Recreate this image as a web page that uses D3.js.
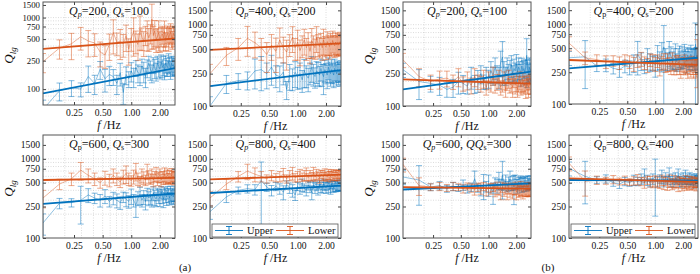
<!DOCTYPE html>
<html>
<head>
<meta charset="utf-8">
<script src="https://cdn.jsdelivr.net/npm/d3@7"></script>
<style>
  body { margin: 0; background: #fff; }
  text { font-family: "Liberation Serif", "Times New Roman", serif; fill: #111; }
</style>
</head>
<body>
<svg id="chart" width="700" height="274"></svg>
<script>
// frequency bins (Hz)
var freqs = [0.118,0.176,0.235,0.294,0.353,0.412,0.471,0.529,0.588,0.647,
             0.706,0.765,0.824,0.882,0.941,1.000,1.059,1.118,1.176,1.235,
             1.294,1.353,1.412,1.471,1.529,1.588,1.647,1.706,1.765,1.824,
             1.882,1.941,2.000,2.059,2.118,2.176,2.235,2.294,2.353,2.412,
             2.471,2.529,2.588,2.647,2.706,2.765,2.824,2.882];

var qp = [200, 400, 600, 800, 200, 400, 600, 800];
var qs = [100, 200, 300, 400, 100, 200, 300, 400];
var yTicks = [100, 250, 500, 750, 1000, 1500];
var xTicks = [0.25, 0.5, 1, 2];

// Q values, error bars as percent of value
var a1Upper = [52,95,105,100,150,120,190,140,160,150, 120,170,90,160,140,180,150,200,170,160, 210,180,150,200,230,190,170,220,200,180, 230,210,190,240,200,220,180,230,210,200, 240,220,190,230,210,220,200,210];
var a1UpperErr = [35,28,25,22,40,30,28,35,30,25, 30,35,32,28,25,30,30,25,28,30, 25,32,30,28,25,30,28,25,30,28, 25,30,27,25,28,30,25,27,28,25, 30,26,28,25,27,28,25,26];
var a1Lower = [242,375,430,540,470,440,330,300,420,620, 450,470,430,560,360,520,640,480,420,700, 530,460,580,620,520,610,950,560,650,500, 540,620,480,560,590,520,640,480,560,600, 520,580,630,540,500,600,560,580];
var a1LowerErr = [30,30,40,35,40,35,38,35,40,50, 35,45,35,40,40,35,55,35,40,50, 35,38,30,45,35,30,62,35,40,35, 30,45,32,30,28,35,40,28,30,27, 35,28,30,30,28,27,30,28];

var a2Upper = [100,190,205,210,270,280,250,300,240,230, 260,160,240,220,260,230,250,210,270,240, 220,260,300,250,230,270,260,240,290,250, 230,280,260,240,300,270,250,280,260,240, 290,270,250,280,260,270,250,280];
var a2UpperErr = [30,25,22,25,40,45,35,40,30,35, 30,25,35,30,35,30,35,30,38,30, 32,30,35,30,28,30,32,28,30,30, 40,30,28,32,30,28,30,32,28,30, 30,28,30,28,30,28,30,28];
var a2Lower = [250,420,520,680,600,520,430,560,470,650, 520,460,580,700,520,610,480,560,650,520, 590,470,640,560,520,700,580,540,600,520, 650,560,530,620,580,540,600,560,640,580, 550,610,570,600,560,590,620,580];
var a2LowerErr = [30,25,30,40,35,30,40,35,45,40, 35,40,30,35,30,40,35,30,35,30, 35,30,40,30,28,35,30,28,30,30, 35,28,30,32,28,30,30,28,30,27, 28,30,28,30,27,28,30,28];

var a3Upper = [155,275,280,300,350,320,300,340,290,320, 300,280,330,310,290,340,300,260,320,350, 300,330,290,360,320,340,300,370,330,310, 360,340,320,380,340,310,370,350,330,380, 350,320,370,340,360,330,370,350];
var a3UpperErr = [30,15,12,50,20,15,18,20,15,18, 20,18,15,20,18,22,18,30,20,25, 18,20,22,18,20,22,18,20,22,20, 18,20,22,18,20,22,18,20,22,18, 20,18,22,20,18,20,22,18];
var a3Lower = [320,480,560,720,620,560,500,580,540,620, 560,510,600,650,560,530,600,700,560,520, 620,580,540,700,600,560,620,540,600,650, 560,590,620,540,600,580,640,560,600,620, 570,600,560,630,590,610,570,600];
var a3LowerErr = [25,15,18,25,20,18,15,20,18,20, 18,15,20,25,18,15,20,25,18,15, 20,18,15,22,18,15,20,18,15,20, 18,15,20,18,15,18,20,15,18,20, 15,18,15,20,18,15,18,15];

var a4Upper = [215,330,400,420,410,530,440,400,450,420, 380,470,430,400,350,450,420,470,430,400, 460,440,380,470,430,450,410,470,440,420, 480,450,430,470,440,460,420,480,450,430, 470,450,440,470,450,460,440,470];
var a4UpperErr = [20,15,10,12,15,72,12,15,12,15, 20,12,15,18,15,12,15,18,12,15, 12,15,20,12,15,12,15,12,15,12, 15,12,15,12,15,12,15,12,15,12, 12,15,12,15,12,15,12,15];
var a4Lower = [320,480,600,700,640,600,560,620,580,600, 640,560,620,660,580,600,640,590,620,650, 580,620,600,660,590,640,610,580,640,620, 600,650,610,590,640,620,600,650,610,630, 600,640,620,610,650,620,630,640];
var a4LowerErr = [20,15,15,22,20,15,12,15,12,15, 18,12,15,18,12,15,15,12,15,18, 12,15,12,18,12,15,12,15,12,15, 12,15,12,12,15,12,15,12,12,15, 12,12,15,12,12,15,12,12];

var b1Upper = [280,200,190,180,160,170,200,190,175,230, 190,210,250,200,230,220,270,240,300,250, 230,350,400,270,240,300,260,280,320,250, 290,270,330,260,300,280,250,310,270,290, 260,300,420,280,260,300,270,290];
var b1UpperErr = [20,40,22,25,20,25,30,25,20,30, 25,30,25,20,30,25,30,25,30,25, 30,35,55,30,25,30,25,30,30,25, 30,25,30,25,30,25,30,25,30,25, 30,25,60,30,25,30,25,30];
var b1Lower = [370,230,200,215,220,200,230,190,210,180, 230,200,190,220,170,210,190,240,180,200, 220,170,190,210,160,200,220,180,190,170, 210,180,200,160,190,210,170,185,200,175, 190,165,195,180,170,200,180,185];
var b1LowerErr = [20,25,20,25,22,20,25,20,25,22, 25,20,22,25,20,25,22,25,20,22, 25,20,22,25,20,22,25,20,22,25, 20,22,25,20,22,25,20,22,25,20, 22,25,20,22,25,20,22,25];

var b2Upper = [380,390,300,310,280,270,300,290,330,420, 350,300,380,340,330,310,400,360,420,520, 380,350,450,400,360,380,420,340,380,410, 360,400,370,430,390,350,410,380,360,420, 390,370,400,380,560,390,410,380];
var b2UpperErr = [20,60,15,18,15,20,18,20,25,45, 25,20,30,25,20,30,35,25,40,85, 30,25,35,30,25,30,35,25,30,30, 25,30,25,30,25,30,25,30,25,30, 25,30,25,30,85,30,25,30];
var b2Lower = [580,380,360,340,350,330,360,340,320,350, 370,330,310,360,340,320,350,300,330,350, 310,340,320,300,350,290,330,310,340,300, 280,320,300,330,290,310,280,320,300,290, 330,300,280,310,300,290,400,300];
var b2LowerErr = [20,18,15,18,15,18,15,18,20,18, 20,18,20,18,22,20,18,25,20,22, 20,25,20,22,25,20,22,25,20,22, 25,20,22,25,20,22,25,20,22,25, 20,22,25,20,22,25,60,22];

var b3Upper = [590,540,440,460,420,450,430,470,420,440, 560,430,400,470,450,480,420,380,500,460, 540,480,620,470,520,450,490,560,470,500, 440,520,480,460,510,490,530,470,500,480, 520,490,460,510,490,500,480,510];
var b3UpperErr = [20,52,10,12,10,12,10,15,12,12, 25,12,15,35,15,30,12,30,15,20, 25,15,50,15,20,15,20,25,15,20, 40,20,15,20,15,20,15,20,15,20, 15,20,15,20,15,20,15,20];
var b3Lower = [850,460,440,450,430,450,440,420,450,430, 410,440,420,450,400,430,420,440,390,430, 410,380,440,410,420,380,430,400,420,390, 410,430,380,420,400,390,430,400,380,420, 410,390,420,400,410,390,420,410];
var b3LowerErr = [20,25,10,12,10,12,10,12,10,12, 15,12,15,12,15,12,15,12,15,18, 15,20,15,18,15,20,15,18,15,20, 15,18,20,15,18,15,20,15,18,15, 18,15,20,15,18,15,20,15];

var b4Upper = [760,600,540,560,500,480,520,500,540,520, 560,620,540,500,560,590,520,560,600,520, 580,540,640,520,560,500,580,540,620,520, 560,500,580,540,600,520,560,540,580,520, 560,540,500,560,540,580,520,550];
var b4UpperErr = [20,55,10,12,10,12,12,10,15,12, 15,20,15,12,15,68,15,12,20,15, 15,12,20,15,15,12,15,12,20,15, 15,12,15,12,20,15,15,12,15,12, 15,12,15,12,15,12,15,12];
var b4Lower = [880,520,540,530,550,520,540,510,530,550, 520,500,540,520,490,530,510,480,540,500, 520,470,530,500,480,520,490,510,470,530, 500,480,510,490,520,470,500,510,480,500, 520,490,470,510,500,480,510,500];
var b4LowerErr = [20,35,12,10,12,10,12,10,12,15, 12,15,12,15,12,15,15,12,15,18, 12,15,18,12,15,18,12,15,18,12, 15,18,12,15,18,15,12,18,15,12, 15,18,12,15,12,18,15,12];

// power-law fits: value at lowest and highest frequency
var fitUpper = [[87,197],[176,276],[270,365],[370,460],[160,265],[280,380],[410,490],[540,530]];
var fitLower = [[365,510],[490,590],[540,575],[550,630],[212,188],[356,310],[440,420],[565,512]];

var colors = { upper: "#0072BD", lower: "#D95319" };

var panels = [
  {x0:43,  x1:175, y0:2,   y1:105, yDom:[60,1650], tickFont:8.8, up:a1Upper, upE:a1UpperErr, lo:a1Lower, loE:a1LowerErr, ylab:true,  subIt:true},
  {x0:210, x1:341, y0:2,   y1:106, yDom:[100,1900], up:a2Upper, upE:a2UpperErr, lo:a2Lower, loE:a2LowerErr, ylab:false, subIt:true},
  {x0:43,  x1:175, y0:135, y1:238, yDom:[100,2000], up:a3Upper, upE:a3UpperErr, lo:a3Lower, loE:a3LowerErr, ylab:true,  subIt:false},
  {x0:210, x1:341, y0:135, y1:238, yDom:[100,2000], up:a4Upper, upE:a4UpperErr, lo:a4Lower, loE:a4LowerErr, ylab:false, subIt:true, legend:true},
  {x0:403, x1:531, y0:2,   y1:106, yDom:[100,1900], up:b1Upper, upE:b1UpperErr, lo:b1Lower, loE:b1LowerErr, ylab:true,  subIt:true},
  {x0:569, x1:698, y0:2,   y1:104, yDom:[100,1900], up:b2Upper, upE:b2UpperErr, lo:b2Lower, loE:b2LowerErr, ylab:false, subIt:false},
  {x0:403, x1:531, y0:135, y1:238, yDom:[100,2000], up:b3Upper, upE:b3UpperErr, lo:b3Lower, loE:b3LowerErr, ylab:true,  subIt:true, doubleQ:true},
  {x0:569, x1:698, y0:135, y1:238, yDom:[100,2000], up:b4Upper, upE:b4UpperErr, lo:b4Lower, loE:b4LowerErr, ylab:false, subIt:false, legend:true}
];

var svg = d3.select("#chart");
var gridX = [0.2,0.3,0.4,0.5,0.6,0.7,0.8,0.9,1,2];
var gridY = [60,70,80,90,100,200,300,400,500,600,700,800,900,1000];

panels.forEach(function(p, i) {
  var x = d3.scaleLog().domain([freqs[0], freqs[freqs.length - 1]]).range([p.x0, p.x1]);
  var y = d3.scaleLog().domain(p.yDom).range([p.y1, p.y0]);
  var g = svg.append("g");

  // dotted grid
  g.append("g").selectAll("line")
    .data(gridX.filter(function(d) { return d > x.domain()[0] && d < x.domain()[1]; }))
    .enter().append("line")
      .attr("x1", function(d) { return x(d); }).attr("x2", function(d) { return x(d); })
      .attr("y1", p.y0).attr("y2", p.y1)
      .attr("stroke", "#c4c4c4").attr("stroke-width", 0.6).attr("stroke-dasharray", "1,1.5");
  g.append("g").selectAll("line")
    .data(gridY.filter(function(d) { return d > p.yDom[0] && d < p.yDom[1]; }))
    .enter().append("line")
      .attr("y1", function(d) { return y(d); }).attr("y2", function(d) { return y(d); })
      .attr("x1", p.x0).attr("x2", p.x1)
      .attr("stroke", "#c4c4c4").attr("stroke-width", 0.6).attr("stroke-dasharray", "1,1.5");

  var clipId = "clip" + i;
  g.append("clipPath").attr("id", clipId).append("rect")
    .attr("x", p.x0).attr("y", p.y0).attr("width", p.x1 - p.x0).attr("height", p.y1 - p.y0);
  var plot = g.append("g").attr("clip-path", "url(#" + clipId + ")");

  var series = [
    { key: "upper", vals: p.up, err: p.upE },
    { key: "lower", vals: p.lo, err: p.loE }
  ];

  series.forEach(function(s) {
    var pts = s.vals.map(function(v, j) {
      return { f: freqs[j], v: v, lo: v * (1 - s.err[j] / 100), hi: v * (1 + s.err[j] / 100) };
    });
    var sg = plot.append("g").attr("stroke", colors[s.key]).attr("fill", "none");

    sg.append("path")
      .datum(pts)
      .attr("stroke-width", 0.8).attr("stroke-opacity", 0.55)
      .attr("d", d3.line().x(function(d) { return x(d.f); }).y(function(d) { return y(d.v); }));

    var eb = sg.selectAll("g.eb").data(pts).enter().append("g")
      .attr("stroke-width", 0.8).attr("stroke-opacity", 0.62);
    eb.append("line")
      .attr("x1", function(d) { return x(d.f); }).attr("x2", function(d) { return x(d.f); })
      .attr("y1", function(d) { return y(d.lo); }).attr("y2", function(d) { return y(d.hi); });
    eb.append("line")
      .attr("x1", function(d) { return x(d.f) - 3; }).attr("x2", function(d) { return x(d.f) + 3; })
      .attr("y1", function(d) { return y(d.lo); }).attr("y2", function(d) { return y(d.lo); });
    eb.append("line")
      .attr("x1", function(d) { return x(d.f) - 3; }).attr("x2", function(d) { return x(d.f) + 3; })
      .attr("y1", function(d) { return y(d.hi); }).attr("y2", function(d) { return y(d.hi); });
  });

  // fitted lines on top
  [["upper", fitUpper[i]], ["lower", fitLower[i]]].forEach(function(fl) {
    plot.append("path")
      .datum([[freqs[0], fl[1][0]], [freqs[freqs.length - 1], fl[1][1]]])
      .attr("fill", "none").attr("stroke", colors[fl[0]]).attr("stroke-width", 1.8)
      .attr("d", d3.line().x(function(d) { return x(d[0]); }).y(function(d) { return y(d[1]); }));
  });

  // axes
  var yAxis = d3.axisLeft(y).tickValues(yTicks).tickFormat(d3.format("d"))
    .tickSizeInner(-3).tickSizeOuter(0).tickPadding(3);
  var ya = g.append("g").attr("transform", "translate(" + p.x0 + ",0)").call(yAxis);
  var xAxis = d3.axisBottom(x).tickValues(xTicks).tickFormat(d3.format(".2f"))
    .tickSizeInner(-3).tickSizeOuter(0).tickPadding(4);
  var xa = g.append("g").attr("transform", "translate(0," + p.y1 + ")").call(xAxis);
  var yr = g.append("g").attr("transform", "translate(" + p.x1 + ",0)")
    .call(d3.axisRight(y).tickValues(yTicks).tickFormat("").tickSizeInner(-3).tickSizeOuter(0));
  var xt = g.append("g").attr("transform", "translate(0," + p.y0 + ")")
    .call(d3.axisTop(x).tickValues(xTicks).tickFormat("").tickSizeInner(-3).tickSizeOuter(0));
  [ya, xa, yr, xt].forEach(function(a) {
    a.select(".domain").remove();
    a.selectAll("line").attr("stroke", "#444");
    a.selectAll("text").attr("font-family", "Liberation Serif, serif").attr("font-size", 9.6).attr("fill", "#111");
  });
  if (p.tickFont) ya.selectAll("text").attr("font-size", p.tickFont);

  g.append("rect")
    .attr("x", p.x0).attr("y", p.y0).attr("width", p.x1 - p.x0).attr("height", p.y1 - p.y0)
    .attr("fill", "none").attr("stroke", "#555").attr("stroke-width", 1);

  // title
  var t = g.append("text").attr("x", (p.x0 + p.x1) / 2).attr("y", p.y0 + 13)
    .attr("text-anchor", "middle").attr("font-size", 12);
  t.append("tspan").attr("font-style", "italic").text("Q");
  t.append("tspan").attr("font-size", 8).attr("dy", 2).attr("font-style", p.subIt ? "italic" : "normal").text("p");
  t.append("tspan").attr("dy", -2).text("=" + qp[i] + ", ");
  t.append("tspan").attr("font-style", "italic").text(p.doubleQ ? "QQ" : "Q");
  t.append("tspan").attr("font-size", 8).attr("dy", 2).text("s");
  t.append("tspan").attr("dy", -2).text("=" + qs[i]);

  // x label
  var xl = g.append("text").attr("x", (p.x0 + p.x1) / 2).attr("y", p.y1 + 24)
    .attr("text-anchor", "middle").attr("font-size", 12);
  xl.append("tspan").attr("font-style", "italic").text("f");
  xl.append("tspan").text(" /Hz");

  // y label
  if (p.ylab) {
    var yl = g.append("text")
      .attr("transform", "translate(" + (p.x0 - 30) + "," + ((p.y0 + p.y1) / 2 + 2) + ") rotate(-90)")
      .attr("text-anchor", "middle").attr("font-size", 13);
    yl.append("tspan").attr("font-style", "italic").text("Q");
    yl.append("tspan").attr("font-size", 9).attr("dy", 3).attr("font-style", "italic").text("lg");
  }

  // legend
  if (p.legend) {
    var lx = p.x0 + 2, ly = p.y1 - 14;
    var lg = g.append("g");
    lg.append("rect").attr("x", lx).attr("y", ly).attr("width", p.x1 - p.x0 - 5).attr("height", 13)
      .attr("fill", "#fff").attr("stroke", "#555").attr("stroke-width", 0.8);
    [["upper", "Upper", 3], ["lower", "Lower", 64]].forEach(function(e) {
      var cx = lx + e[2] + 14, cy = ly + 6.5;
      var c = lg.append("g").attr("stroke", colors[e[0]]).attr("stroke-width", 0.9);
      c.append("line").attr("x1", lx + e[2]).attr("x2", lx + e[2] + 28).attr("y1", cy).attr("y2", cy);
      c.append("line").attr("x1", cx).attr("x2", cx).attr("y1", cy - 4).attr("y2", cy + 4);
      c.append("line").attr("x1", cx - 3).attr("x2", cx + 3).attr("y1", cy - 4).attr("y2", cy - 4);
      c.append("line").attr("x1", cx - 3).attr("x2", cx + 3).attr("y1", cy + 4).attr("y2", cy + 4);
      lg.append("text").attr("x", lx + e[2] + 32).attr("y", cy + 3.5).attr("font-size", 10.5).text(e[1]);
    });
  }
});

svg.append("text").attr("x", 185).attr("y", 271).attr("text-anchor", "middle").attr("font-size", 11).text("(a)");
svg.append("text").attr("x", 548).attr("y", 271).attr("text-anchor", "middle").attr("font-size", 11).text("(b)");
</script>
</body>
</html>
